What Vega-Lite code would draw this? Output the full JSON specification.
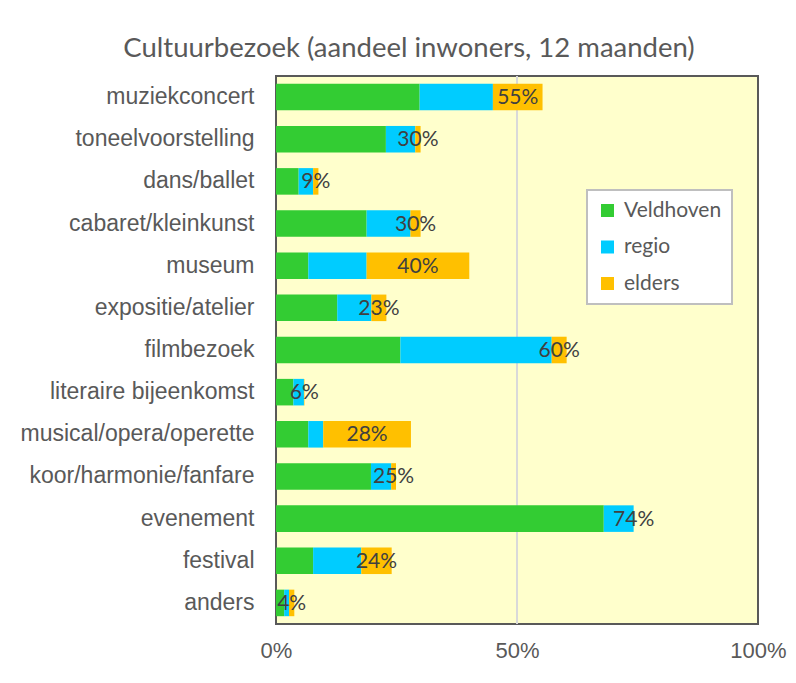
{
  "$schema": "https://vega.github.io/schema/vega-lite/v6.json",
  "autosize": {"type": "none"},
  "width": 482,
  "height": 548,
  "padding": {"left": 276, "top": 76, "right": 38, "bottom": 59},
  "background": "white",
  "title": {
    "text": "Cultuurbezoek (aandeel inwoners, 12 maanden)",
    "font": "Lato",
    "fontSize": 27.5,
    "fontWeight": "normal",
    "color": "#595959",
    "anchor": "middle",
    "frame": "group",
    "baseline": "alphabetic",
    "offset": 18,
    "dx": -108,
    "dy": 27
  },
  "data": {
    "values": [
      {"activiteit": "muziekconcert", "herkomst": "Veldhoven", "aandeel": 29.8},
      {"activiteit": "muziekconcert", "herkomst": "regio", "aandeel": 15.2},
      {"activiteit": "muziekconcert", "herkomst": "elders", "aandeel": 10.3, "label": "55%"},
      {"activiteit": "toneelvoorstelling", "herkomst": "Veldhoven", "aandeel": 22.8},
      {"activiteit": "toneelvoorstelling", "herkomst": "regio", "aandeel": 6.1},
      {"activiteit": "toneelvoorstelling", "herkomst": "elders", "aandeel": 1.1, "label": "30%"},
      {"activiteit": "dans/ballet", "herkomst": "Veldhoven", "aandeel": 4.7},
      {"activiteit": "dans/ballet", "herkomst": "regio", "aandeel": 3.0},
      {"activiteit": "dans/ballet", "herkomst": "elders", "aandeel": 1.1, "label": "9%"},
      {"activiteit": "cabaret/kleinkunst", "herkomst": "Veldhoven", "aandeel": 18.8},
      {"activiteit": "cabaret/kleinkunst", "herkomst": "regio", "aandeel": 9.1},
      {"activiteit": "cabaret/kleinkunst", "herkomst": "elders", "aandeel": 2.1, "label": "30%"},
      {"activiteit": "museum", "herkomst": "Veldhoven", "aandeel": 6.7},
      {"activiteit": "museum", "herkomst": "regio", "aandeel": 12.1},
      {"activiteit": "museum", "herkomst": "elders", "aandeel": 21.3, "label": "40%"},
      {"activiteit": "expositie/atelier", "herkomst": "Veldhoven", "aandeel": 12.7},
      {"activiteit": "expositie/atelier", "herkomst": "regio", "aandeel": 7.1},
      {"activiteit": "expositie/atelier", "herkomst": "elders", "aandeel": 3.1, "label": "23%"},
      {"activiteit": "filmbezoek", "herkomst": "Veldhoven", "aandeel": 25.8},
      {"activiteit": "filmbezoek", "herkomst": "regio", "aandeel": 31.4},
      {"activiteit": "filmbezoek", "herkomst": "elders", "aandeel": 3.1, "label": "60%"},
      {"activiteit": "literaire bijeenkomst", "herkomst": "Veldhoven", "aandeel": 3.6},
      {"activiteit": "literaire bijeenkomst", "herkomst": "regio", "aandeel": 2.2},
      {"activiteit": "literaire bijeenkomst", "herkomst": "elders", "aandeel": 0.1, "label": "6%"},
      {"activiteit": "musical/opera/operette", "herkomst": "Veldhoven", "aandeel": 6.7},
      {"activiteit": "musical/opera/operette", "herkomst": "regio", "aandeel": 3.1},
      {"activiteit": "musical/opera/operette", "herkomst": "elders", "aandeel": 18.2, "label": "28%"},
      {"activiteit": "koor/harmonie/fanfare", "herkomst": "Veldhoven", "aandeel": 19.7},
      {"activiteit": "koor/harmonie/fanfare", "herkomst": "regio", "aandeel": 4.2},
      {"activiteit": "koor/harmonie/fanfare", "herkomst": "elders", "aandeel": 1.0, "label": "25%"},
      {"activiteit": "evenement", "herkomst": "Veldhoven", "aandeel": 68.0},
      {"activiteit": "evenement", "herkomst": "regio", "aandeel": 6.2},
      {"activiteit": "evenement", "herkomst": "elders", "aandeel": 0.0, "label": "74%"},
      {"activiteit": "festival", "herkomst": "Veldhoven", "aandeel": 7.7},
      {"activiteit": "festival", "herkomst": "regio", "aandeel": 10.0},
      {"activiteit": "festival", "herkomst": "elders", "aandeel": 6.3, "label": "24%"},
      {"activiteit": "anders", "herkomst": "Veldhoven", "aandeel": 1.7},
      {"activiteit": "anders", "herkomst": "regio", "aandeel": 1.0},
      {"activiteit": "anders", "herkomst": "elders", "aandeel": 1.1, "label": "4%"}
    ]
  },
  "transform": [
    {"calculate": "indexof(['Veldhoven','regio','elders'], datum.herkomst)", "as": "volg"},
    {"stack": "aandeel", "groupby": ["activiteit"], "sort": [{"field": "volg", "order": "ascending"}], "as": ["x0", "x1"]}
  ],
  "encoding": {
    "y": {
      "field": "activiteit",
      "type": "nominal",
      "sort": null,
      "title": null,
      "scale": {"paddingInner": 0.37, "paddingOuter": 0.185},
      "axis": {
        "domain": false,
        "ticks": false,
        "labelPadding": 22,
        "labelFont": "Liberation Sans",
        "labelFontSize": 23,
        "labelColor": "#595959",
        "labelLimit": 300
      }
    }
  },
  "layer": [
    {
      "mark": {"type": "rule", "color": "#d9d9d9", "strokeWidth": 2},
      "encoding": {"x": {"datum": 50, "type": "quantitative"}, "y": null}
    },
    {
      "mark": {"type": "bar"},
      "encoding": {
        "x": {
          "field": "x0",
          "type": "quantitative",
          "scale": {"domain": [0, 100], "nice": false},
          "title": null,
          "axis": {
            "values": [0, 50, 100],
            "labelExpr": "datum.value + '%'",
            "grid": false,
            "domain": false,
            "ticks": false,
            "labelPadding": 16,
            "labelFont": "Liberation Sans",
            "labelFontSize": 22,
            "labelColor": "#595959",
            "labelFlush": false
          }
        },
        "x2": {"field": "x1"},
        "color": {
          "field": "herkomst",
          "type": "nominal",
          "scale": {"domain": ["Veldhoven", "regio", "elders"], "range": ["#33CC33", "#00CCFF", "#FFC000"]},
          "legend": {
            "title": null,
            "orient": "none",
            "legendX": 311,
            "legendY": 114,
            "fillColor": "white",
            "strokeColor": "#bfbfbf",
            "padding": 10,
            "symbolType": "square",
            "symbolSize": 169,
            "symbolStrokeWidth": 0,
            "labelFont": "Lato",
            "labelFontSize": 21,
            "labelColor": "#595959",
            "labelOffset": 6,
            "rowPadding": 14.5,
            "encode": {"legend": {"update": {"strokeWidth": {"value": 2}}}}
          }
        }
      }
    },
    {
      "transform": [
        {"filter": "datum.herkomst === 'elders'"},
        {"calculate": "(datum.x0 + datum.x1) / 2", "as": "midden"}
      ],
      "mark": {"type": "text", "font": "Lato", "fontSize": 21, "color": "#404040", "align": "center", "baseline": "middle", "dy": 1},
      "encoding": {
        "x": {"field": "midden", "type": "quantitative"},
        "text": {"field": "label"}
      }
    }
  ],
  "config": {
    "view": {"fill": "#FFFFCC", "stroke": "#595959", "strokeWidth": 2}
  }
}
